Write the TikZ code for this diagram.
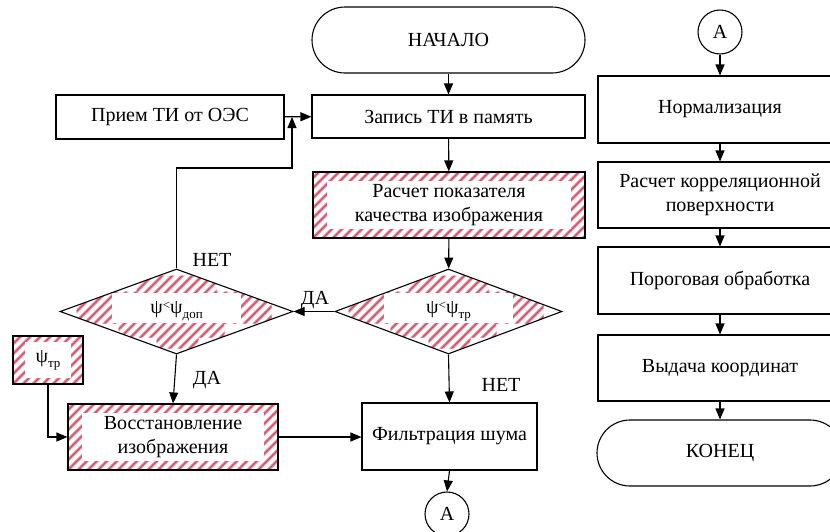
\documentclass[tikz,border=0pt]{standalone}
\usepackage{fontspec}
\setmainfont{Liberation Serif}
\usetikzlibrary{arrows.meta,shapes.geometric}
\definecolor{hatchA}{RGB}{236,160,175}
\definecolor{hatchB}{RGB}{205,75,100}
\newcommand{\subtxt}[1]{\raisebox{-5pt}{\fontsize{13}{13}\selectfont #1}}
\newcommand{\smlt}{\raisebox{4pt}{\fontsize{13}{13}\selectfont<}}
\tikzset{
  txt/.style={font=\fontsize{20}{24.5}\selectfont},
  box/.style={draw, line width=1.1pt, rectangle, inner sep=0pt, align=center, txt},
  term/.style={box, rounded corners=33pt},
  conn/.style={draw, circle, line width=1.1pt, minimum size=44pt, inner sep=0pt, txt},
  dia/.style={draw, diamond, line width=1.1pt, inner sep=0pt, aspect=2.7, txt},
  arr/.style={line width=1.1pt, -{Triangle[length=11pt,width=9pt]}},
  ln/.style={line width=1.1pt},
  lbl/.style={inner sep=0pt, txt},
  hline/.style={line width=3.4pt, hatchA},
  hcore/.style={line width=1.3pt, hatchB},
  hatched/.style 2 args={path picture={
    \foreach \i in {-13,...,30}{
      \draw[hline] ([xshift=\i*10pt]path picture bounding box.south west) -- ++(130pt,130pt);
      \draw[hcore] ([xshift=\i*10pt]path picture bounding box.south west) -- ++(130pt,130pt);
    }
    \fill[white] ([shift={(#1,#2)}]path picture bounding box.south west) rectangle ([shift={(-#1,-#2)}]path picture bounding box.north east);
  }},
  dhatched/.style={path picture={
    \begin{scope}[shift={(path picture bounding box.center)}]
      \clip (-40pt,18pt) rectangle (40pt,36pt)
            (-100pt,-12pt) rectangle (95pt,20pt)
            (-58pt,-26pt) rectangle (48pt,-10pt)
            (-20pt,-37pt) rectangle (22pt,-24pt);
      \foreach \i in {-17,...,17}{
        \draw[hline] (\i*10pt-60pt,-60pt) -- ++(120pt,120pt);
        \draw[hcore] (\i*10pt-60pt,-60pt) -- ++(120pt,120pt);
      }
      \fill[white] (-65pt,-11pt) rectangle (64pt,19pt);
    \end{scope}
  }}
}
\begin{document}
\begin{tikzpicture}[x=1pt,y=-1pt]
\useasboundingbox (0,0) rectangle (830,531);
\fill[white] (0,0) rectangle (830,531);
\clip (0,0) rectangle (830,531);

% left / middle column
\node[term, minimum width=273pt, minimum height=66pt] (nach) at (448.5,40) {НАЧАЛО};
\node[box, minimum width=273pt, minimum height=43pt] (zap) at (448.5,116.5) {Запись ТИ в память};
\node[box, minimum width=228pt, minimum height=44pt] (pri) at (170,117) {Прием ТИ от ОЭС};
\node[box, minimum width=272pt, minimum height=66pt, hatched={14pt}{9pt}] (ras) at (449,205) {Расчет показателя\\качества изображения};
\node[dia, minimum width=227pt, minimum height=85pt, dhatched] (dr) at (448.5,311.5) {ψ\smlt ψ\subtxt{тр}};
\node[dia, minimum width=233pt, minimum height=85pt, dhatched] (dl) at (176.5,311.5) {ψ\smlt ψ\subtxt{доп}};
\node[box, minimum width=70pt, minimum height=48pt, hatched={12pt}{6pt}] (psi) at (48,360) {ψ\subtxt{тр}};
\node[box, minimum width=210pt, minimum height=66pt, hatched={14pt}{9pt}] (vos) at (173,437) {Восстановление\\изображения};
\node[box, minimum width=175pt, minimum height=67pt] (fil) at (449.5,436.5) {Фильтрация шума};
\node[conn] (ab) at (447,514) {А};

% labels
\node[lbl] (net1) at (212,260) {НЕТ};
\node[lbl] (da1) at (207,380) {ДА};
\node[lbl] (da2) at (315,300) {ДА};
\node[lbl] (net2) at (501,385) {НЕТ};

% right column
\node[conn] (at) at (720,32) {А};
\node[box, minimum width=244pt, minimum height=67pt] (nor) at (720,109.5) {Нормализация};
\node[box, minimum width=244pt, minimum height=66pt] (kor) at (720,195) {Расчет корреляционной\\поверхности};
\node[box, minimum width=244pt, minimum height=67pt] (por) at (720,280.5) {Пороговая обработка};
\node[box, minimum width=244pt, minimum height=66pt] (vyd) at (720,368) {Выдача координат};
\node[term, minimum width=246pt, minimum height=66pt] (kon) at (720,453) {КОНЕЦ};

% connectors
\coordinate (fb) at (292,168);
\draw[arr] (nach) -- (zap);
\draw[arr] (pri) -- (zap);
\draw[arr] (dl.north) |- (fb) -- (pri.east -| fb);
\draw[arr] (zap) -- (ras);
\draw[arr] (ras) -- (dr);
\draw[arr] (dr.west) -- (dl.east);
\draw[arr] (dr.south) -- (fil.north);
\draw[arr] (dl.south) -- (vos.north);
\draw[arr] (psi.south) |- (vos.west);
\draw[arr] (vos.east) -- (vos.east -| fil.west);
\draw[arr] (fil.south) -- (ab.north);
\draw[arr] (at.south) -- (nor.north);
\draw[arr] (nor) -- (kor);
\draw[arr] (kor) -- (por);
\draw[arr] (por) -- (vyd);
\draw[arr] (vyd) -- (kon);
\end{tikzpicture}
\end{document}
